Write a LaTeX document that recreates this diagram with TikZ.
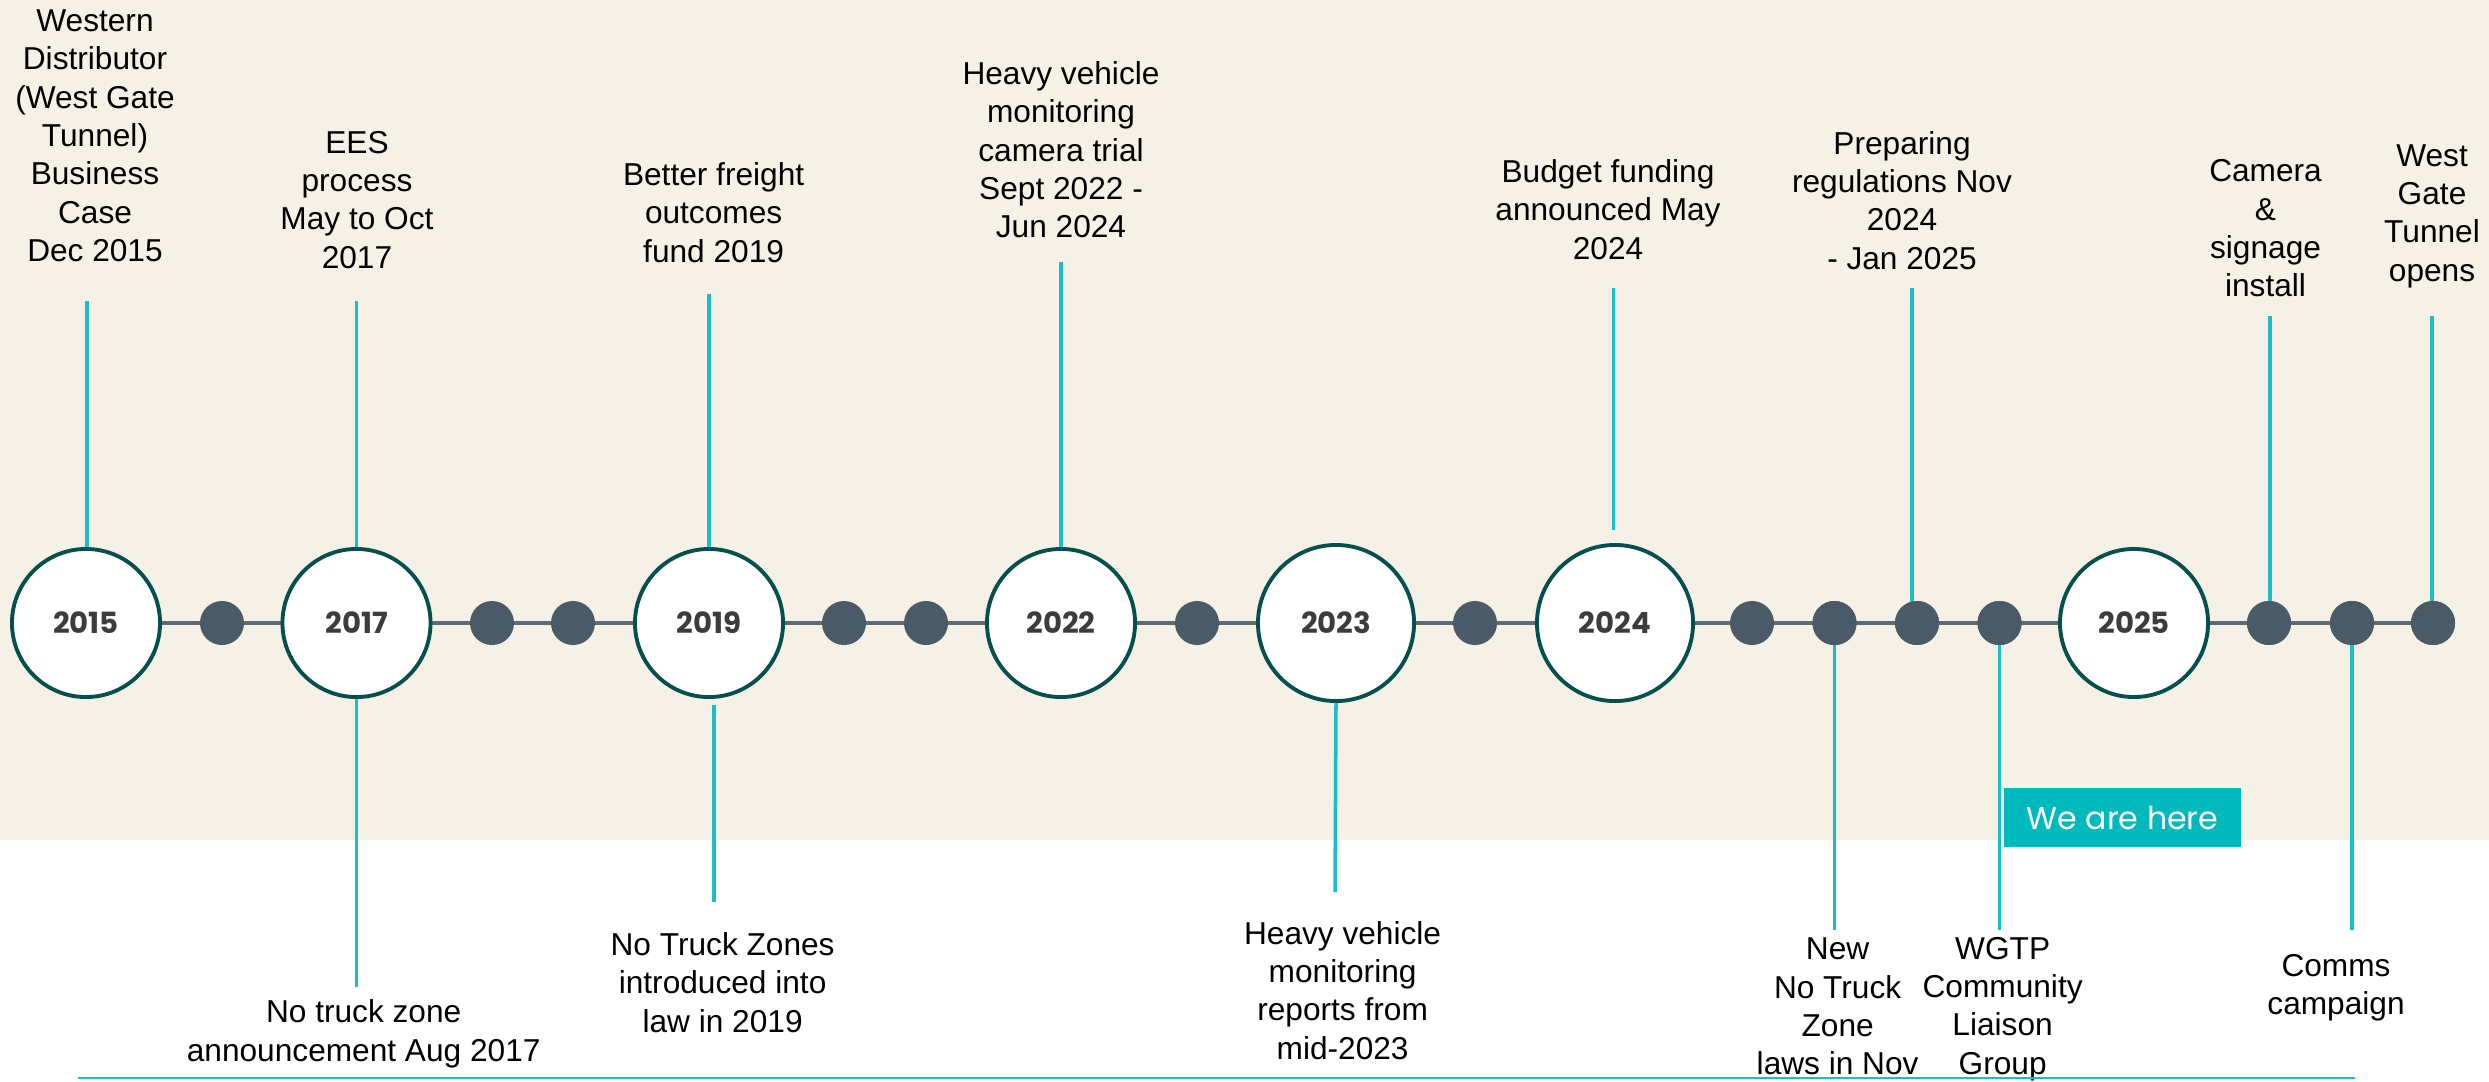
\documentclass[tikz,border=0pt]{standalone}
\usepackage{fontspec}
\setmainfont{Liberation Sans}
\newfontfamily\popfont{Poppins}
\usetikzlibrary{backgrounds}
\definecolor{beigebg}{HTML}{F5F1E6}
\definecolor{linegray}{HTML}{5B6B75}
\definecolor{dotc}{HTML}{4A5A66}
\definecolor{ringc}{HTML}{064F4F}
\definecolor{yeartext}{HTML}{3C3C3C}
\definecolor{tealc}{HTML}{1DBDC8}
\definecolor{boxc}{HTML}{00B9BD}
\begin{document}
\begin{tikzpicture}[x=0.01cm,y=-0.01cm,
  yearc/.style={circle, draw=ringc, line width=1.1pt, fill=white, inner sep=0pt,
    minimum size=1.48cm, font=\popfont\bfseries\fontsize{8.3}{10}\selectfont, text=yeartext},
  yearbig/.style={yearc, minimum size=1.56cm},
  mdot/.style={circle, fill=dotc, inner sep=0pt, minimum size=0.44cm},
  lbl/.style={align=center, font=\fontsize{9}{10.9}\selectfont, text=black, inner sep=0pt},
  conn/.style={draw=tealc, line width=1pt},
  herebox/.style={fill=boxc, text=white, inner sep=0pt, minimum width=2.37cm,
    minimum height=0.585cm, font=\popfont\fontsize{9}{11}\selectfont}]
\useasboundingbox (0,0) rectangle (2489,1081);
% year circles
\node[yearc] (c2015) at (86,623) {2015};
\node[yearc] (c2017) at (356.5,623) {2017};
\node[yearc] (c2019) at (709,623) {2019};
\node[yearc] (c2022) at (1061,623) {2022};
\node[yearbig] (c2023) at (1336,623) {2023};
\node[yearbig] (c2024) at (1615,623) {2024};
\node[yearc] (c2025) at (2134,623) {2025};
% small dots
\node[mdot] (d1) at (222,623) {};
\node[mdot] (d2) at (492,623) {};
\node[mdot] (d3) at (573,623) {};
\node[mdot] (d4) at (844,623) {};
\node[mdot] (d5) at (926,623) {};
\node[mdot] (d6) at (1197,623) {};
\node[mdot] (d7) at (1475,623) {};
\node[mdot] (d8) at (1752,623) {};
\node[mdot] (d9) at (1834.5,623) {};
\node[mdot] (d10) at (1917,623) {};
\node[mdot] (d11) at (1999.5,623) {};
\node[mdot] (d12) at (2269,623) {};
\node[mdot] (d13) at (2352,623) {};
\node[mdot] (d14) at (2433,623) {};
\begin{scope}[on background layer]
  \fill[white] (0,0) rectangle (2489,1081);
  \fill[beigebg] (0,0) rectangle (2489,840);
  \draw[linegray, line width=1pt] (c2015.center) -- (d14.center);
\end{scope}
% top labels
\node[lbl] (l1) at (95,135.7) {Western\\Distributor\\(West Gate\\Tunnel)\\Business\\Case\\Dec 2015};
\node[lbl] (l2) at (357,199.8) {EES\\process\\May to Oct\\2017};
\node[lbl] (l3) at (713.6,212.5) {Better freight\\outcomes\\fund 2019};
\node[lbl] (l4) at (1061,150) {Heavy vehicle\\monitoring\\camera trial\\Sept 2022 -\\Jun 2024};
\node[lbl] (l5) at (1608,209.5) {Budget funding\\announced May\\2024};
\node[lbl] (l6) at (1902,200.5) {Preparing\\regulations Nov\\2024\\- Jan 2025};
\node[lbl] (l7) at (2265.5,228.5) {Camera\\\&\\signage\\install};
\node[lbl] (l8) at (2432,216) {West\\Gate\\Tunnel\\opens};
% bottom labels
\node[lbl] (l9) at (363.7,1033.8) {No truck zone\\announcement Aug 2017};
\node[lbl] (l10) at (722.6,982.6) {No Truck Zones\\introduced into\\law in 2019};
\node[lbl] (l11) at (1342.6,990.3) {Heavy vehicle\\monitoring\\reports from\\mid-2023};
\node[lbl] (l12) at (1837.6,1006.7) {New\\No Truck\\Zone\\laws in Nov};
\node[lbl] (l13) at (2002.6,1009) {WGTP\\Community\\Liaison\\Group};
\node[lbl] (l14) at (2336,987.8) {Comms\\campaign};
% we are here
\node[herebox] (here) at (2122.5,817.5) {We are here};
% connector end points
\coordinate (t2015) at (87,301);
\coordinate (t2017) at (356.5,301);
\coordinate (t2019) at (709,294);
\coordinate (t2022) at (1061,262);
\coordinate (t2024a) at (1613.5,287.5);
\coordinate (t2024b) at (1613.5,530);
\coordinate (tprep) at (1912,287.5);
\coordinate (tcam) at (2270,316);
\coordinate (twgt) at (2432,316);
\coordinate (b2017) at (356.5,987);
\coordinate (b2019a) at (714,705);
\coordinate (b2019b) at (714,901.6);
\coordinate (b2023) at (1335,892);
\coordinate (bnew) at (1834.5,930);
\coordinate (bwgtp) at (1999.5,930);
\coordinate (bcomms) at (2352,930);
\coordinate (bl1) at (78,1078);
\coordinate (bl2) at (2355,1078);
% connectors
\draw[conn] (t2015) -- (t2015 |- c2015.north);
\draw[conn] (t2017) -- (c2017.north);
\draw[conn] (t2019) -- (c2019.north);
\draw[conn] (t2022) -- (c2022.north);
\draw[conn] (t2024a) -- (t2024b);
\draw[conn] (tprep) -- (tprep |- d10.center);
\draw[conn] (tcam) -- (tcam |- d12.center);
\draw[conn] (twgt) -- (twgt |- d14.center);
\draw[conn] (c2017.south) -- (b2017);
\draw[conn] (b2019a) -- (b2019b);
\draw[conn] (c2023.south) -- (b2023);
\draw[conn] (d9.center) -- (bnew);
\draw[conn] (d11.center) -- (bwgtp);
\draw[conn] (d13.center) -- (bcomms);
\draw[tealc, line width=0.6pt] (bl1) -- (bl2);
% redraw dots over connector starts
\foreach \d in {d9,d10,d11,d12,d13,d14}{\fill[dotc] (\d) circle (22);}
\end{tikzpicture}
\end{document}
